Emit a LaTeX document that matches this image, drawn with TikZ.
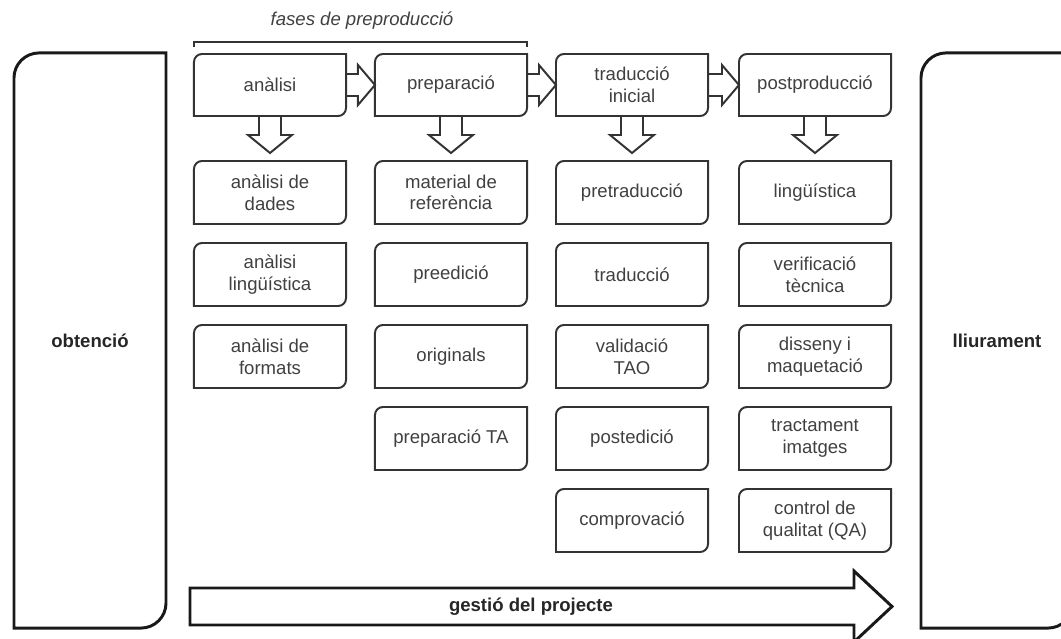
\documentclass[tikz,border=0pt]{standalone}
\usepackage{fontspec}
\setmainfont{Liberation Sans}
\usetikzlibrary{calc}

\definecolor{boxgray}{HTML}{333333}
\definecolor{txtgray}{HTML}{404040}

\tikzset{
  phase/.style={minimum width=3.8cm, minimum height=1.55cm, align=center, inner sep=2pt, outer sep=0pt,
    text=txtgray, font=\fontsize{13.2}{15.4}\selectfont},
  task/.style={phase, minimum height=1.575cm},
  stage/.style={minimum width=3.8cm, minimum height=14.375cm, outer sep=0pt,
    text=black!85, font=\bfseries\fontsize{13.2}{15.4}\selectfont},
  boxline/.style={draw=boxgray, line width=1.4pt},
  bigline/.style={draw=black!90, line width=2.1pt, line join=miter},
  blockarrow/.style={draw=boxgray, fill=white, line width=1.4pt, line join=miter},
}

% box with rounded top-left and bottom-right corners
\newcommand\cornerbox[3]{%
  \draw[#1] (#3.west) [rounded corners=#2] -- (#3.north west) [sharp corners] -- (#3.north east)
    [rounded corners=#2] -- (#3.south east) [sharp corners] -- (#3.south west) -- cycle;}
% hollow arrow to the right, box to box
\newcommand\harrow[2]{%
  \draw[blockarrow] ($(#1.east)+(0,-11)$) -- ($(#2.west)+(-17,-11)$) -- ($(#2.west)+(-17,-20)$)
    -- (#2.west) -- ($(#2.west)+(-17,20)$) -- ($(#2.west)+(-17,11)$) -- ($(#1.east)+(0,11)$);}
% hollow arrow downwards, box to box
\newcommand\varrow[2]{%
  \draw[blockarrow] ($(#1.south)+(-11,0)$) -- ($(#2.north)+(-11,-26)$) -- ($(#2.north)+(-22,-26)$)
    -- ($(#2.north)+(0,-8)$) -- ($(#2.north)+(22,-26)$) -- ($(#2.north)+(11,-26)$) -- ($(#1.south)+(11,0)$);}

\begin{document}
\begin{tikzpicture}[x=0.025cm, y=-0.025cm]

\useasboundingbox (0,0) rectangle (1061,639);
\clip (0,0) rectangle (1061,639);

% Side stages
\node[stage] (obt) at (90,340.5) {obtenció};
\node[stage] (lliu) at (997,340.5) {lliurament};
\cornerbox{bigline}{17.8pt}{obt}
\cornerbox{bigline}{17.8pt}{lliu}

% Phases
\node[phase] (anal) at (270,85) {anàlisi};
\node[phase] (prep) at (451,85) {preparació};
\node[phase] (trad) at (632,85) {traducció\\inicial};
\node[phase] (post) at (815,85) {postproducció};

% Tasks of each phase
\foreach \t [count=\r] in {{anàlisi de\\dades}, {anàlisi\\lingüística}, {anàlisi de\\formats}}
  \node[task] (anal\r) at (270,110.5+82*\r) {\t};
\foreach \t [count=\r] in {{material de\\referència}, preedició, originals, preparació TA}
  \node[task] (prep\r) at (451,110.5+82*\r) {\t};
\foreach \t [count=\r] in {pretraducció, traducció, {validació\\TAO}, postedició, comprovació}
  \node[task] (trad\r) at (632,110.5+82*\r) {\t};
\foreach \t [count=\r] in {lingüística, {verificació\\tècnica}, {disseny i\\maquetació}, {tractament\\imatges}, {control de\\qualitat (QA)}}
  \node[task] (post\r) at (815,110.5+82*\r) {\t};

% Arrows
\harrow{anal}{prep}
\harrow{prep}{trad}
\harrow{trad}{post}
\foreach \n in {anal,prep,trad,post}
  \varrow{\n}{\n1};

% Outlines
\foreach \n in {anal,prep,trad,post,anal1,anal2,anal3,prep1,prep2,prep3,prep4,
    trad1,trad2,trad3,trad4,trad5,post1,post2,post3,post4,post5}
  \cornerbox{boxline}{5.7pt}{\n};

% Preproduction bracket
\node[font=\itshape\fontsize{13.2}{15.4}\selectfont, text=txtgray] (fases) at (362,21) {fases de preproducció};
\draw[boxgray, line width=1.1pt] ($(anal.north west)+(0,-7)$) -- ++(0,-5) -- ($(prep.north east)+(0,-12)$) -- ++(0,5);

% Project management
\draw[bigline, fill=white] (190,588) -- (854,588) -- (854,571) -- (892,606.5) -- (854,642) -- (854,625) -- (190,625) -- cycle;
\node[text=black!85, font=\bfseries\fontsize{13.2}{15.4}\selectfont] (gestio) at (531,606.5) {gestió del projecte};

\end{tikzpicture}
\end{document}
